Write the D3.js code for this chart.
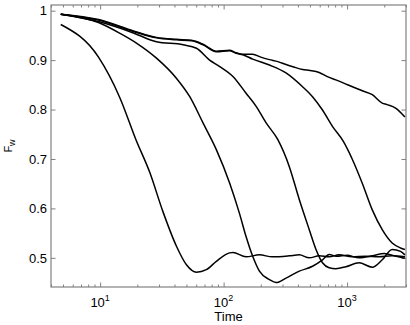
<!DOCTYPE html>
<html>
<head>
<meta charset="utf-8">
<script src="https://cdn.jsdelivr.net/npm/d3@7"></script>
<style>
  body { margin: 0; background: #fff; }
  svg { display: block; font-family: "Liberation Sans", Arial, sans-serif; }
  .tick line { stroke: #808080; }
  .curve { fill: none; stroke: #000; stroke-width: 1.5; }
</style>
</head>
<body>
<svg id="chart" width="410" height="325"></svg>
<script>
// curve A: fastest decay
const timeA = [4.8, 9.7, 14.5, 19.5, 25.3, 32.2, 41.6, 50, 60.3, 72.5, 87.3, 111.7, 119, 152, 195, 248, 340, 410, 494, 594, 716, 861, 1096, 1415, 1813, 2307, 2940];
const fwA = [0.972, 0.906, 0.823, 0.739, 0.672, 0.594, 0.523, 0.486, 0.471, 0.476, 0.493, 0.510, 0.511, 0.502, 0.506, 0.502, 0.504, 0.506, 0.500, 0.504, 0.502, 0.506, 0.502, 0.503, 0.502, 0.504, 0.502];

// curve B
const timeB = [4.8, 9.7, 14.5, 19.8, 28.6, 41.6, 53.2, 68.1, 87.3, 112, 134, 152, 172, 195, 235, 266, 320, 410, 525, 632, 716, 820, 1000, 1250, 1600, 2000, 2500, 2940];
const fwB = [0.993, 0.976, 0.954, 0.934, 0.904, 0.863, 0.826, 0.773, 0.719, 0.651, 0.591, 0.543, 0.503, 0.473, 0.456, 0.450, 0.459, 0.473, 0.483, 0.496, 0.507, 0.503, 0.505, 0.500, 0.504, 0.509, 0.503, 0.499];

// curve C
const timeC = [4.8, 9.7, 18.6, 28.6, 47, 60.3, 77, 93, 119, 152, 184, 221, 275, 340, 410, 494, 560, 632, 716, 811, 978, 1250, 1600, 1926, 2318, 2710, 2940];
const fwC = [0.993, 0.978, 0.955, 0.937, 0.931, 0.924, 0.900, 0.887, 0.867, 0.833, 0.806, 0.773, 0.739, 0.685, 0.618, 0.557, 0.517, 0.490, 0.480, 0.478, 0.482, 0.490, 0.481, 0.496, 0.517, 0.513, 0.506];

// curve D
const timeD = [4.8, 9.7, 18.6, 28.6, 41.6, 54.9, 68.1, 87.3, 111.7, 126, 143, 172, 235, 320, 436, 525, 632, 761, 930, 1104, 1327, 1600, 1926, 2318, 2710, 2940];
const fwD = [0.993, 0.981, 0.958, 0.945, 0.941, 0.939, 0.931, 0.917, 0.919, 0.914, 0.911, 0.902, 0.890, 0.874, 0.846, 0.826, 0.799, 0.766, 0.736, 0.699, 0.651, 0.597, 0.557, 0.530, 0.520, 0.517];

// curve E: slowest decay
const timeE = [4.8, 9.7, 18.6, 28.6, 41.6, 54.9, 68.1, 87.3, 111.7, 126, 143, 172, 200, 235, 275, 320, 370, 436, 500, 594, 700, 811, 950, 1104, 1327, 1600, 1926, 2100, 2470, 2940];
const fwE = [0.993, 0.982, 0.959, 0.946, 0.942, 0.940, 0.932, 0.918, 0.920, 0.915, 0.912, 0.912, 0.906, 0.901, 0.897, 0.891, 0.886, 0.881, 0.879, 0.875, 0.866, 0.860, 0.853, 0.846, 0.838, 0.830, 0.813, 0.810, 0.803, 0.785];

const xMajor = [10, 100, 1000];
const xMinor = [4, 5, 6, 7, 8, 9, 20, 30, 40, 50, 60, 70, 80, 90, 200, 300, 400, 500, 600, 700, 800, 900, 2000, 3000];
const yTicks = [0.5, 0.6, 0.7, 0.8, 0.9, 1];

const margin = { top: 5, left: 51, right: 4, bottom: 38 };
const width = 410, height = 325;

const svg = d3.select("#chart");

const x = d3.scaleLog().domain([4, 3000]).range([margin.left, width - margin.right]);
const y = d3.scaleLinear().domain([0.441, 1.0115]).range([height - margin.bottom, margin.top]);

const x0 = x.range()[0], x1 = x.range()[1];
const y0 = y.range()[0], y1 = y.range()[1];

// ticks, all pointing inward, mirrored on top/right
function tickAxis(axis, pos) {
    svg.append("g")
        .attr("transform", pos)
        .call(axis)
        .call(g => g.select(".domain").remove())
        .call(g => g.selectAll("text").remove());
}
tickAxis(d3.axisBottom(x).tickValues(xMajor).tickSize(-4.5), `translate(0,${y0})`);
tickAxis(d3.axisBottom(x).tickValues(xMinor).tickSize(-2.5), `translate(0,${y0})`);
tickAxis(d3.axisTop(x).tickValues(xMajor).tickSize(-4.5), `translate(0,${y1})`);
tickAxis(d3.axisTop(x).tickValues(xMinor).tickSize(-2.5), `translate(0,${y1})`);
tickAxis(d3.axisLeft(y).tickValues(yTicks).tickSize(-4.5), `translate(${x0},0)`);
tickAxis(d3.axisRight(y).tickValues(yTicks).tickSize(-4.5), `translate(${x1},0)`);

// box
svg.append("rect")
    .attr("x", x0).attr("y", y1)
    .attr("width", x1 - x0).attr("height", y0 - y1)
    .attr("fill", "none")
    .attr("stroke", "#808080")
    .attr("stroke-width", 1.2);

// y tick labels
svg.append("g")
    .selectAll("text")
    .data(yTicks)
    .join("text")
    .attr("x", x0 - 4)
    .attr("y", d => y(d))
    .attr("dy", "0.36em")
    .attr("text-anchor", "end")
    .attr("font-size", 13)
    .text(d => String(+d.toFixed(1)));

// x tick labels 10^n
const xl = svg.append("g")
    .selectAll("text")
    .data(xMajor)
    .join("text")
    .attr("x", d => x(d))
    .attr("y", 307)
    .attr("text-anchor", "middle")
    .attr("font-size", 13);
xl.append("tspan").text("10");
xl.append("tspan")
    .attr("font-size", 9)
    .attr("dy", -6)
    .text(d => Math.round(Math.log10(d)));

// axis titles
svg.append("text")
    .attr("x", (x0 + x1) / 2)
    .attr("y", 321)
    .attr("text-anchor", "middle")
    .attr("font-size", 13)
    .text("Time");

const yl = svg.append("text")
    .attr("transform", `translate(12,${(y0 + y1) / 2}) rotate(-90)`)
    .attr("text-anchor", "middle")
    .attr("font-size", 11);
yl.append("tspan").text("F");
yl.append("tspan").attr("font-size", 9).attr("dy", 3).text("w");

// curves
const line = d3.line()
    .x(d => x(d[0]))
    .y(d => y(d[1]))
    .curve(d3.curveMonotoneX);

const curves = [
    [timeA, fwA], [timeB, fwB], [timeC, fwC], [timeD, fwD], [timeE, fwE]
];

svg.append("g")
    .selectAll("path")
    .data(curves)
    .join("path")
    .attr("class", "curve")
    .attr("d", ([t, v]) => line(d3.zip(t, v)));
</script>
</body>
</html>
